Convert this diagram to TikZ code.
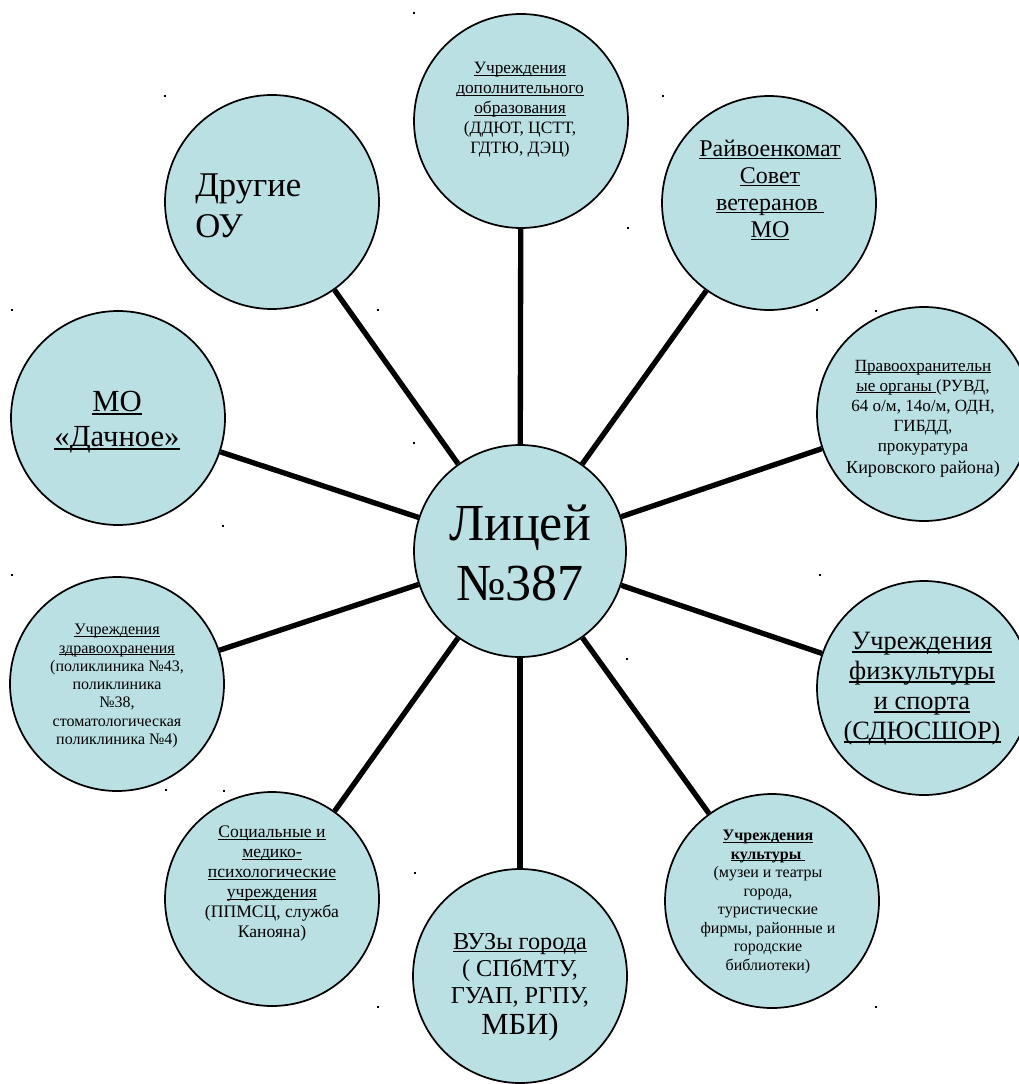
\documentclass[tikz,border=0pt]{standalone}
\usepackage{fontspec}
\setmainfont{Liberation Serif}
\usetikzlibrary{backgrounds}
\definecolor{bub}{RGB}{187,224,227}
\newsavebox\ulbox
\newcommand{\ulx}[1]{\sbox\ulbox{#1}\rlap{\rule[-0.11em]{\wd\ulbox}{0.055em}}\usebox\ulbox}
\tikzset{
  bubble/.style={circle, draw=black, line width=1.3pt, fill=bub, minimum size=160.5pt, inner sep=0pt},
  link/.style={line width=4pt, draw=black},
  txt/.style={align=center, inner sep=0pt, text=black},
}
\begin{document}
\begin{tikzpicture}[x=0.75pt,y=-0.75pt]
\useasboundingbox (0,0) rectangle (1018,1084);
% circles
\node[bubble, minimum size=159pt] (c) at (520,551) {};
\node[bubble] (top) at (521,121) {};
\node[bubble] (rv) at (769,203) {};
\node[bubble] (prav) at (924,414) {};
\node[bubble] (fiz) at (924,688) {};
\node[bubble] (kult) at (772,901) {};
\node[bubble] (vuz) at (520,976) {};
\node[bubble] (soc) at (272,899) {};
\node[bubble] (zdr) at (117,684) {};
\node[bubble] (mo) at (118,418) {};
\node[bubble] (dr) at (272,202) {};
% connectors
\begin{scope}[on background layer]
\foreach \n in {top,rv,prav,fiz,kult,vuz,soc,zdr,mo,dr}
  \draw[link] (c) -- (\n);
\end{scope}
% texts
\node[txt, font=\fontsize{39}{45}\selectfont] (c-t) at (520,553) {Лицей\\№387};
\node[txt, font=\fontsize{13}{15}\selectfont] (top-t) at (520,110)
  {\ulx{Учреждения}\\\ulx{дополнительного}\\\ulx{образования}\\(ДДЮТ, ЦСТТ,\\ГДТЮ, ДЭЦ)};
\node[txt, font=\fontsize{18}{20.3}\selectfont] (rv-t) at (770,190)
  {\ulx{Райвоенкомат}\\\ulx{Совет}\\\ulx{ветеранов\ }\\\ulx{МО}};
\node[txt, font=\fontsize{12.8}{15}\selectfont] (prav-t) at (923,419)
  {\ulx{Правоохранительн}\\\ulx{ые органы }(РУВД,\\64 о/м, 14о/м, ОДН,\\ГИБДД,\\прокуратура\\[2pt]{\fontsize{13.6}{15}\selectfont Кировского района)}};
\node[txt, font=\fontsize{19.8}{22.5}\selectfont] (fiz-t) at (922,689)
  {\ulx{Учреждения}\\\ulx{физкультуры}\\\ulx{и спорта}\\\ulx{(СДЮСШОР)}};
\node[txt, font=\fontsize{12}{13.9}\selectfont] (kult-t) at (768,902)
  {\textbf{\ulx{Учреждения}}\\\textbf{\ulx{культуры }}\\(музеи и театры\\города,\\туристические\\фирмы, районные и\\городские\\библиотеки)};
\node[txt, font=\fontsize{18.2}{20.3}\selectfont] (vuz-t) at (520,987)
  {\ulx{ВУЗы города}\\( СПбМТУ,\\ГУАП, РГПУ,\\[3pt]{\fontsize{23}{25}\selectfont МБИ)}};
\node[txt, font=\fontsize{13.2}{15}\selectfont] (soc-t) at (272,884)
  {\ulx{Социальные и}\\\ulx{медико-}\\\ulx{психологические}\\\ulx{учреждения}\\(ППМСЦ, служба\\Канояна)};
\node[txt, font=\fontsize{12}{13.7}\selectfont] (zdr-t) at (117,686)
  {\ulx{Учреждения}\\\ulx{здравоохранения}\\(поликлиника №43,\\поликлиника\\№38,\\стоматологическая\\поликлиника №4)};
\node[txt, font=\fontsize{23}{26.5}\selectfont] (mo-t) at (117,422)
  {\ulx{МО}\\\ulx{«Дачное»}};
\node[txt, align=left, anchor=west, font=\fontsize{26}{31}\selectfont] (dr-t) at (195,206)
  {Другие\\ОУ};
% stray specks
\foreach \p in {(414,13),(663,96),(628,228),(165,96),(378,310),(817,310),(876,311),
  (12,310),(223,526),(414,443),(627,659),(820,575),(12,575),(166,790),(224,791),
  (415,873),(378,1007),(876,1007)}
  \fill[black] \p ++(-1,-1) rectangle ++(2.4,2.4);
\end{tikzpicture}
\end{document}
